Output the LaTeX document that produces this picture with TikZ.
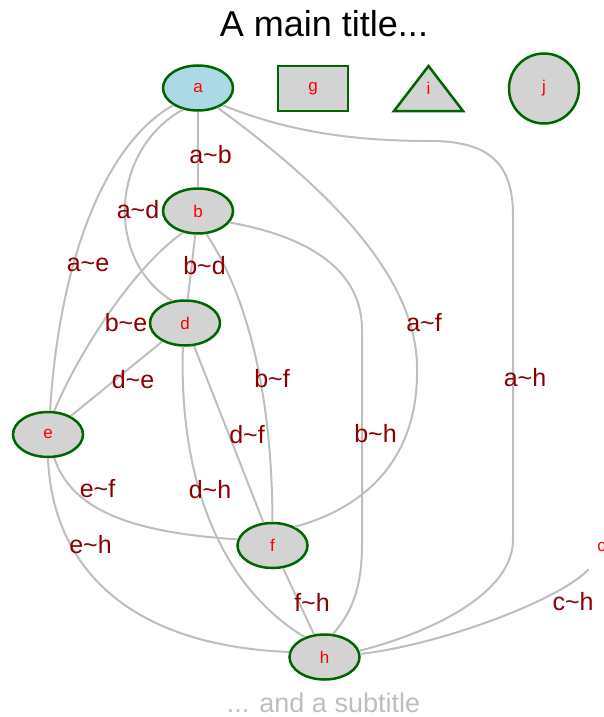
\documentclass[tikz,border=0pt]{standalone}
\usepackage{fontspec}
\setmainfont{Liberation Sans}
\usetikzlibrary{shapes.geometric}
\definecolor{vfill}{HTML}{D3D3D3}
\definecolor{vblue}{HTML}{ADD8E6}
\definecolor{vline}{HTML}{006400}
\definecolor{egray}{HTML}{BEBEBE}
\definecolor{ered}{HTML}{8B0000}

\begin{document}
\begin{tikzpicture}[x=1pt,y=-1pt,
vertex/.style={ellipse,draw=vline,line width=2.5pt,fill=vfill,minimum width=70pt,minimum height=45pt,inner sep=0pt,text=red,font=\fontsize{17}{17}\selectfont},
vlabel/.style={text=red,inner sep=0pt,font=\fontsize{17}{17}\selectfont},
edge/.style={draw=egray,line width=2pt},
elabel/.style={text=ered,inner sep=0pt,font=\fontsize{25}{25}\selectfont}]
\useasboundingbox (0,0) rectangle (604,717);
\node[font=\fontsize{36}{36}\selectfont,inner sep=0pt] (title) at (324,24) {A main title...};
\node[font=\fontsize{27}{27}\selectfont,text=egray,inner sep=0pt] (subtitle) at (323.5,703) {... and a subtitle};
% vertices
\node[vertex,fill=vblue] (a) at (198,88) {a};
\foreach \n/\x/\y in {b/198/211, d/185/323, e/48/434.5, f/272.5/545.5, h/324.5/657} {
\node[vertex] (\n) at (\x,\y) {\n};
}
\node[vertex,rectangle] (g) at (313,88.5) {g};
\draw[draw=vline,line width=2.5pt,fill=vfill] (428.5,88.5) ++(-34.5,22.5) -- ++(34.5,-45) -- ++(34.5,45) -- cycle;
\node[vlabel] (i) at (428.5,88.5) {i};
\node[vertex,circle,minimum size=70pt] (j) at (544,88.5) {j};
\node[vertex,draw=none,fill=none] (c) at (601.5,547) {c};
% edges
\foreach \s/\t in {a/b,b/d,d/e,d/f,f/h} {
\draw[edge] (\s) -- (\t);
}
\draw[edge] (a.235) .. controls (110,150) and (105,260) .. (d.120);
\draw[edge] (a.215) .. controls (110,140) and (60,250) .. (e.85);
\draw[edge] (a.315) .. controls (330,190) and (420,280) .. (417,373) .. controls (417,450) and (375,505) .. (f.40);
\draw[edge] (a.325) .. controls (280,128) and (340,141) .. (430,141) .. controls (485,141) and (513,160) .. (513,215) -- (513,540) .. controls (513,590) and (440,630) .. (h.10);
\draw[edge] (b.340) .. controls (300,235) and (362,265) .. (362,330) -- (362,545) .. controls (362,590) and (350,615) .. (h.70);
\draw[edge] (b.290) .. controls (250,300) and (272,400) .. (f.90);
\draw[edge] (b.235) .. controls (130,270) and (75,360) .. (e.75);
\draw[edge] (d.265) .. controls (180,430) and (195,570) .. (h.135);
\draw[edge] (e.285) .. controls (70,505) and (120,532) .. (f.170);
\draw[edge] (e.270) .. controls (52,560) and (120,645) .. (h.172);
\draw[edge] (c.240) .. controls (560,600) and (440,645) .. (h.5);
% edge labels
\foreach \s/\t/\x/\y in {a/b/210.5/155, a/d/138/210, a/e/88/265, a/f/424/323, a/h/525/378, b/d/204.5/266, b/e/126/323, b/f/272/379, b/h/375.5/434, d/e/133/380, d/f/247/435, d/h/210/490, e/f/97.5/489, e/h/90.5/545, f/h/312/602, c/h/573/602} {
\node[elabel] (\s\t) at (\x,\y) {\s\textasciitilde\t};
}
\end{tikzpicture}
\end{document}
